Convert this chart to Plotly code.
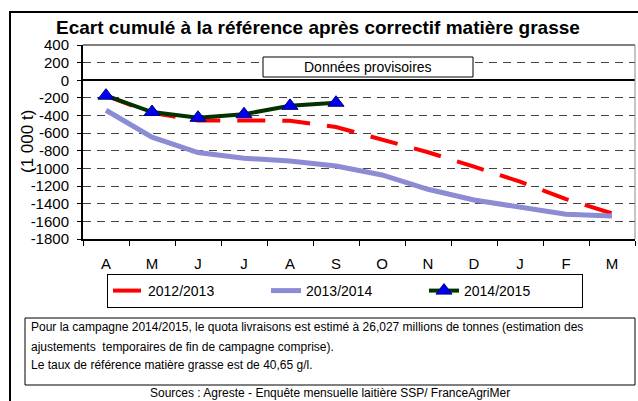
import plotly.graph_objects as go

months = ["A", "M", "J", "J ", "A ", "S", "O", "N", "D", "J  ", "F", "M "]
month_labels = ["A", "M", "J", "J", "A", "S", "O", "N", "D", "J", "F", "M"]

s2012 = [-175, -370, -455, -460, -458, -530, -668, -816, -980, -1150, -1347, -1510]
s2013 = [-340, -645, -820, -884, -915, -972, -1074, -1236, -1358, -1441, -1520, -1540]
s2014 = [-175, -360, -425, -385, -290, -255]

y_ticks = [400, 200, 0, -200, -400, -600, -800, -1000, -1200, -1400, -1600, -1800]
y_tick_labels = ["400", "200", "0", "-200", "-400", "-600", "-800", "-1000",
                 "-1200", "-1400", "-1600", "-1800"]

FONT = "Liberation Sans, Arial, sans-serif"

# plot area in pixels
L, R, T, B = 83, 635, 45, 239
W, H = 638, 401


def px(x):
    return (x - L) / (R - L)


def py(y):
    return (B - y) / (B - T)


fig = go.Figure()
fig.add_trace(go.Scatter(
    x=months, y=s2012, name="2012/2013", mode="lines",
    line=dict(color="#ff0000", width=4, dash="28px,17px")))
fig.add_trace(go.Scatter(
    x=months, y=s2013, name="2013/2014", mode="lines",
    line=dict(color="#8c8cd4", width=5)))
fig.add_trace(go.Scatter(
    x=months[:len(s2014)], y=s2014, name="2014/2015", mode="lines+markers",
    line=dict(color="#003300", width=4),
    marker=dict(symbol="triangle-up", size=14, color="#0000ee",
                line=dict(color="#000080", width=1))))

fig.update_layout(
    width=W, height=H,
    margin=dict(l=L, r=W - R, t=T, b=H - B, pad=0, autoexpand=False),
    paper_bgcolor="white", plot_bgcolor="white",
    font=dict(family=FONT, color="black"),
    showlegend=True,
    legend=dict(orientation="h", x=px(345), y=py(274), xanchor="center",
                yanchor="top", bordercolor="black", borderwidth=1,
                font=dict(size=14, family=FONT), entrywidth=113,
                bgcolor="white", tracegroupgap=0),
    xaxis=dict(type="category", tickson="boundaries", ticks="outside",
               ticklen=5, tickcolor="black", showline=True, linecolor="black",
               linewidth=2, showgrid=False, tickvals=months,
               ticktext=month_labels, tickfont=dict(size=15),
               ticklabelstandoff=10, range=[-0.5, 11.5], automargin=False),
    yaxis=dict(range=[-1800, 400], tickvals=y_ticks, ticktext=y_tick_labels,
               tickfont=dict(size=15), ticks="outside", ticklen=4,
               tickcolor="black", showline=True, linecolor="black",
               linewidth=2, showgrid=True, gridcolor="#444444", gridwidth=1,
               griddash="8px,6px", zeroline=True, zerolinecolor="black",
               zerolinewidth=2, ticklabelstandoff=5, automargin=False),
)

shapes = [
    # outer frame
    dict(type="rect", xref="paper", yref="paper", x0=px(10), x1=px(660),
         y0=py(420), y1=py(12), line=dict(color="black", width=2)),
    # top border of plot
    dict(type="line", xref="paper", yref="paper", x0=0, x1=1, y0=1, y1=1,
         line=dict(color="black", width=1)),
    # right border of plot
    dict(type="line", xref="paper", yref="paper", x0=1, x1=1, y0=0, y1=1,
         line=dict(color="#888888", width=1)),
    # "Données provisoires" box
    dict(type="rect", xref="paper", yref="paper", x0=px(263), x1=px(473),
         y0=py(77), y1=py(57), line=dict(color="black", width=1),
         fillcolor="white", layer="above"),
    # note box
    dict(type="rect", xref="paper", yref="paper", x0=px(25), x1=px(635),
         y0=py(385), y1=py(318), line=dict(color="black", width=1)),
]

annotations = [
    dict(text="<b>Ecart cumulé à la référence après correctif matière grasse</b>",
         x=px(318), y=py(27.5), xref="paper", yref="paper", showarrow=False,
         xanchor="center", yanchor="middle", font=dict(size=19)),
    dict(text="(1 000 t)", x=px(27), y=py(142), xref="paper", yref="paper",
         showarrow=False, textangle=-90, xanchor="center", yanchor="middle",
         font=dict(size=17)),
    dict(text="Données provisoires", x=px(368), y=py(67), xref="paper",
         yref="paper", showarrow=False, xanchor="center", yanchor="middle",
         font=dict(size=14)),
    dict(text="Pour la campagne 2014/2015, le quota livraisons est estimé à 26,027 millions de tonnes (estimation des",
         x=px(29), y=py(327), xref="paper", yref="paper", showarrow=False,
         xanchor="left", yanchor="middle", font=dict(size=12)),
    dict(text="ajustements  temporaires de fin de campagne comprise).",
         x=px(29), y=py(347), xref="paper", yref="paper", showarrow=False,
         xanchor="left", yanchor="middle", font=dict(size=12)),
    dict(text="Le taux de référence matière grasse est de 40,65 g/l.",
         x=px(29), y=py(365), xref="paper", yref="paper", showarrow=False,
         xanchor="left", yanchor="middle", font=dict(size=12)),
    dict(text="Sources : Agreste - Enquête mensuelle laitière SSP/ FranceAgriMer",
         x=px(330), y=py(393), xref="paper", yref="paper", showarrow=False,
         xanchor="center", yanchor="middle", font=dict(size=12)),
]

fig.update_layout(shapes=shapes, annotations=annotations)
fig.write_html(
    "out.html",
    config={"displayModeBar": False},
    post_script="document.body.style.margin='0px';document.body.style.overflow='hidden';")
